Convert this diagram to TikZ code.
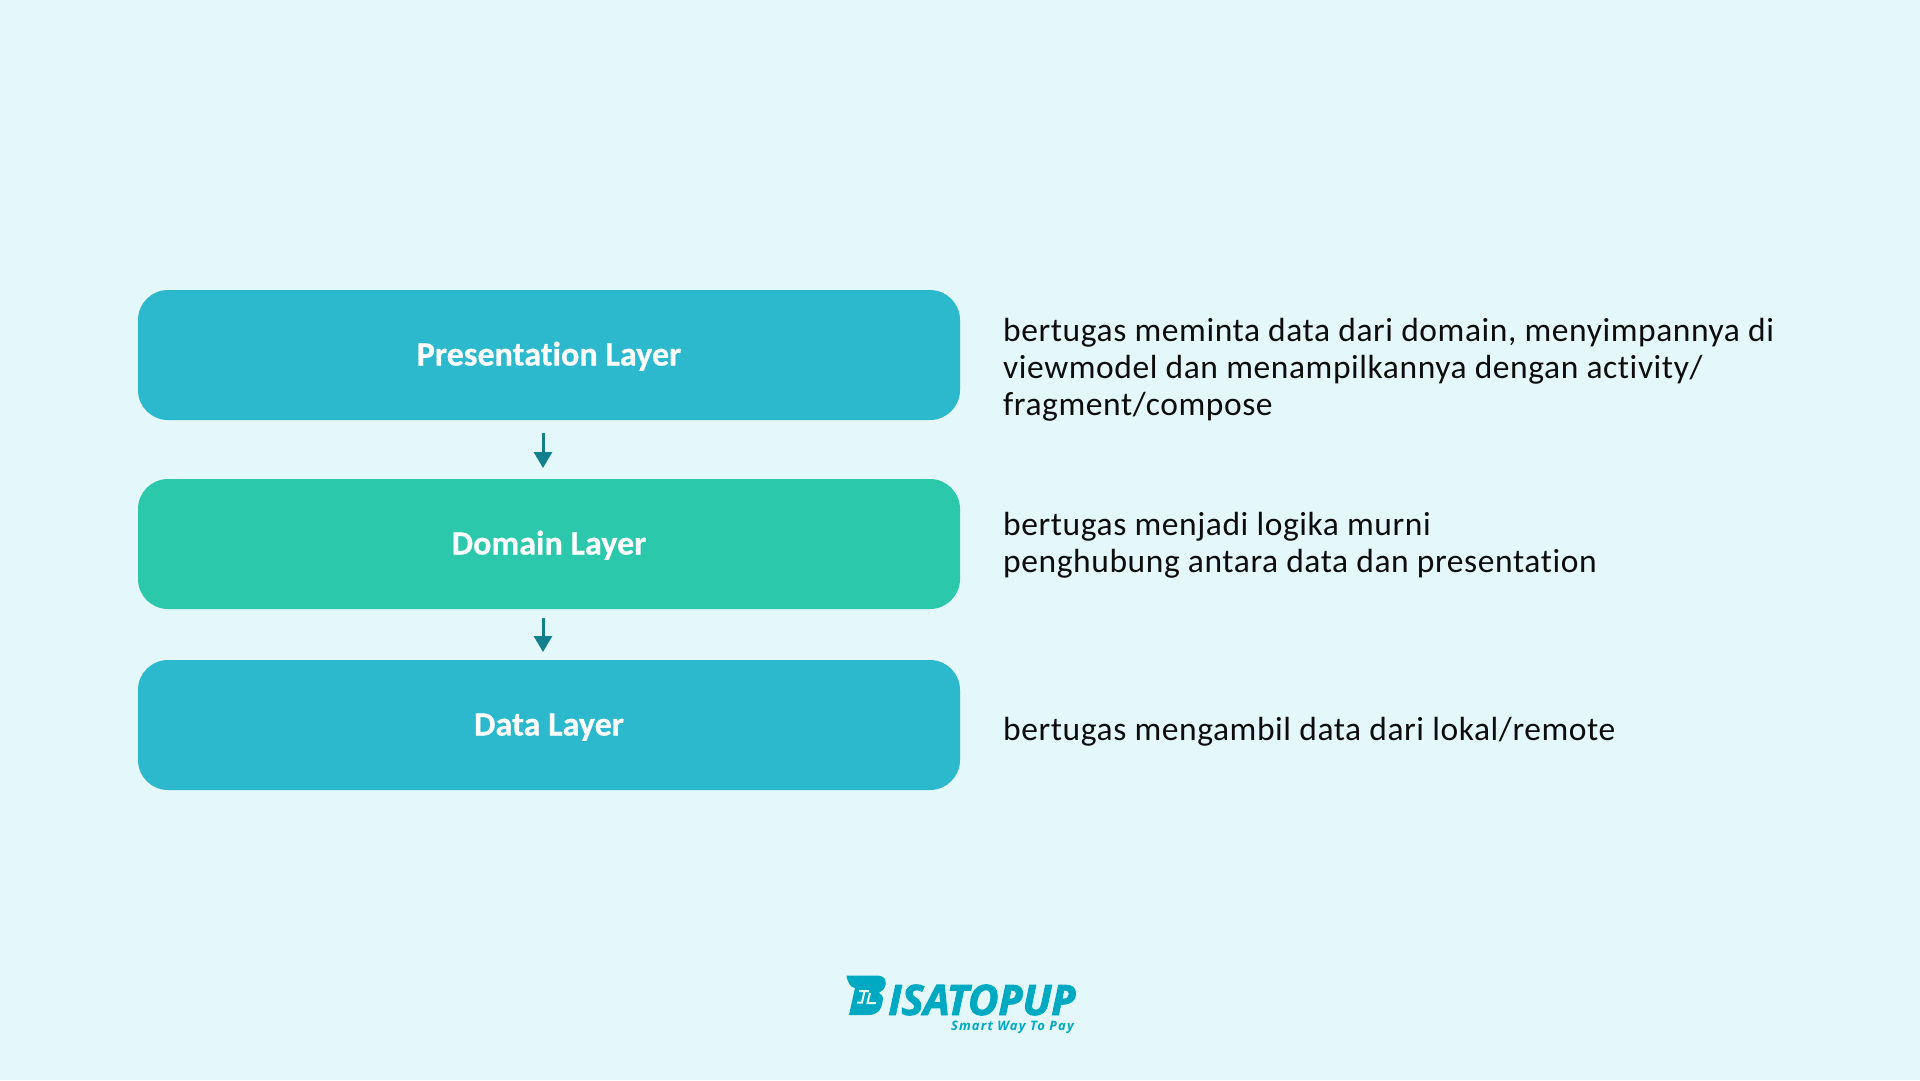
\documentclass[tikz,border=0pt]{standalone}
\usepackage{fontspec}
\setmainfont{Carlito}[LetterSpace=1.75,RawFeature=-liga]
\newfontfamily\labelfont{Carlito}[LetterSpace=0.2,RawFeature=-liga,BoldFeatures={FakeBold=0.5}]
\newfontfamily\logofont{Open Sans}[LetterSpace=-0.6,BoldItalicFeatures={FakeBold=2}]
\newfontfamily\logosubfont{Open Sans}[LetterSpace=9]
\usetikzlibrary{arrows.meta}
\definecolor{bgc}{HTML}{E4F7FA}
\definecolor{teal1}{HTML}{2DB9CD}
\definecolor{green1}{HTML}{2CC8AB}
\definecolor{arr}{HTML}{127F8C}
\definecolor{logoc}{HTML}{00A9C2}
\tikzset{
  layerbox/.style={minimum width=822pt,minimum height=130pt,rounded corners=30pt,inner sep=0pt,text=white,text depth=6pt,text height=27pt,font=\labelfont\fontsize{34}{36}\selectfont\bfseries},
  desc/.style={anchor=west,align=left,inner sep=0pt,text=black!95,font=\fontsize{33.5}{37}\selectfont},
  flow/.style={draw=arr,line width=3pt,-{Triangle[length=16pt,width=18pt,fill=arr]},shorten >=0pt}
}
\begin{document}
\begin{tikzpicture}[x=1pt,y=-1pt]
\useasboundingbox (0,0) rectangle (1920,1080);
\fill[bgc] (0,0) rectangle (1920,1080);
\node[layerbox,fill=teal1] (p) at (549,355) {Presentation Layer};
\node[layerbox,fill=green1] (d) at (549,544) {Domain Layer};
\node[layerbox,fill=teal1] (l) at (549,725) {Data Layer};
\coordinate (a1s) at (543,433); \coordinate (a1e) at (543,468);
\coordinate (a2s) at (543,618); \coordinate (a2e) at (543,652);
\draw[flow] (a1s) -- (a1e);
\draw[flow] (a2s) -- (a2e);
\node[desc] (t1) at (1003,369.5) {bertugas meminta data dari domain, menyimpannya di\\viewmodel dan menampilkannya dengan activity/\\fragment/compose};
\node[desc] (t2) at (1003,545) {bertugas menjadi logika murni\\penghubung antara data dan presentation};
\node[desc] (t3) at (1003,732) {bertugas mengambil data dari lokal/remote};
% logo
\fill[logoc]
  (846.5,975.5) -- (876,975.5) .. controls (885,975.5) and (886.5,980) .. (885.5,985)
  .. controls (884.5,989) and (882,991.5) .. (879,992.7)
  .. controls (882,994) and (883.5,997) .. (882.7,1001)
  .. controls (881,1011) and (877,1015) .. (868,1015)
  -- (849,1015) -- (855,988) .. controls (851,987.5) and (847.5,983) .. (846.5,975.5) -- cycle;
\draw[bgc,line width=2pt] (859,991) -- (869,991) (864.5,991) -- (862,1002.5) -- (857,1002.5)
  (870,993) -- (867.5,1003) -- (876,1003);
\node[anchor=base west,inner sep=0pt,text=logoc,font=\logofont\fontsize{42}{42}\selectfont\bfseries\itshape] (lg) at (888,1015) {ISATOPUP};
\node[anchor=base east,inner sep=0pt,text=logoc,font=\logosubfont\fontsize{13}{13}\selectfont\bfseries\itshape] (sl) at (1074,1030) {Smart Way To Pay};
\end{tikzpicture}
\end{document}
